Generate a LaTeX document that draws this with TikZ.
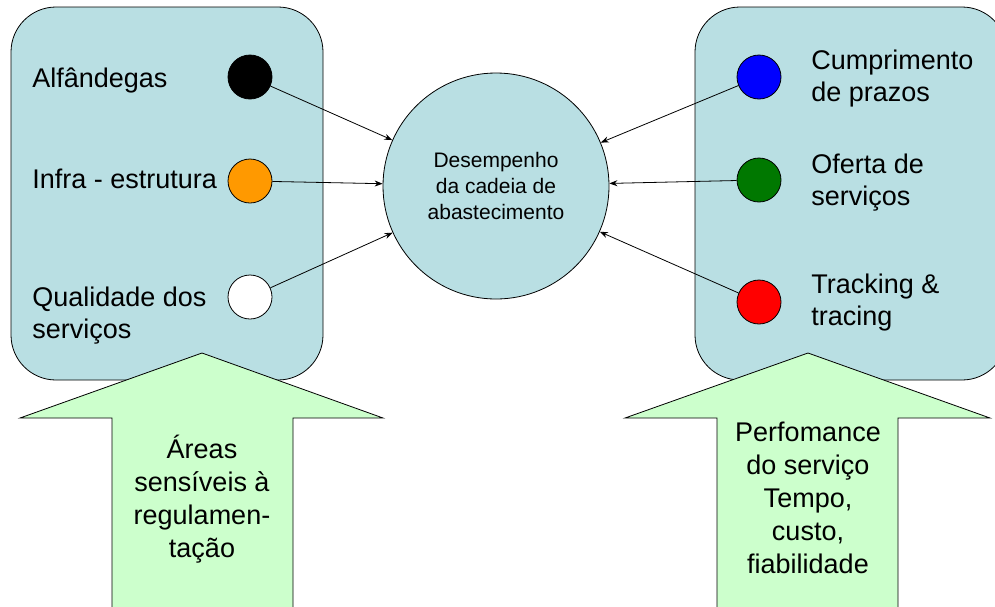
\documentclass[tikz,border=0pt]{standalone}
\usepackage{fontspec}
\setmainfont{Liberation Sans}
\usetikzlibrary{arrows.meta}
\definecolor{caixa}{RGB}{185,223,227}
\definecolor{seta}{RGB}{204,255,204}
\definecolor{laranja}{RGB}{255,153,0}
\definecolor{verde}{RGB}{0,120,0}
\begin{document}
\begin{tikzpicture}[x=1pt,y=-1pt,>={Stealth[length=8pt,width=6pt]},line width=0.8pt,
	ponto/.style={circle,draw,minimum size=44pt,inner sep=0pt},
	rotulo/.style={anchor=base west,align=left,inner sep=0pt,font=\fontsize{27}{32}\selectfont},
	textoseta/.style={anchor=base,align=center,inner sep=0pt,font=\fontsize{27}{33}\selectfont}]
		\useasboundingbox (0,0) rectangle (995,606);
		\clip (0,0) rectangle (995,606);
		% caixas
		\draw[fill=caixa,rounded corners=45pt] (11,7) rectangle (323,380);
		\draw[fill=caixa,rounded corners=45pt] (695,7) rectangle (1007,380);
		% setas grandes
		\draw[fill=seta] (202,353)--(383,418)--(293,418)--(293,620)--(112,620)--(112,418)--(20,418)--cycle;
		\draw[fill=seta] (808,353)--(990,418)--(898,418)--(898,620)--(717,620)--(717,418)--(625,418)--cycle;
		\node[textoseta] (areas) at (202,557) {Áreas\\sensíveis à\\regulamen-\\tação};
		\node[textoseta] (perf) at (808,573) {Perfomance\\do serviço\\Tempo,\\custo,\\fiabilidade};
		% centro
		\node[circle,draw,fill=caixa,minimum size=226pt,inner sep=0pt,align=center,font=\fontsize{21}{26}\selectfont] (desemp) at (496,186) {Desempenho\\da cadeia de\\abastecimento};
		% pontos
		\node[ponto,fill=black] (alf) at (250,77) {};
		\node[ponto,fill=laranja] (infra) at (250,181) {};
		\node[ponto,fill=white] (qual) at (250,297) {};
		\node[ponto,fill=blue] (prazo) at (759,77) {};
		\node[ponto,fill=verde] (oferta) at (759,180) {};
		\node[ponto,fill=red] (track) at (759,302) {};
		\node[rotulo] (talf) at (32,87) {Alfândegas};
		\node[rotulo] (tinfra) at (32,188) {Infra - estrutura};
		\node[rotulo] (tqual) at (32,338) {Qualidade dos\\serviços};
		\node[rotulo] (tprazo) at (811,101) {Cumprimento\\de prazos};
		\node[rotulo] (toferta) at (811,205) {Oferta de\\serviços};
		\node[rotulo] (ttrack) at (811,325) {Tracking \&\\tracing};
		\foreach \p in {alf,infra,qual,prazo,oferta,track}
			\draw[->] (\p)--(desemp);
\end{tikzpicture}
\end{document}
